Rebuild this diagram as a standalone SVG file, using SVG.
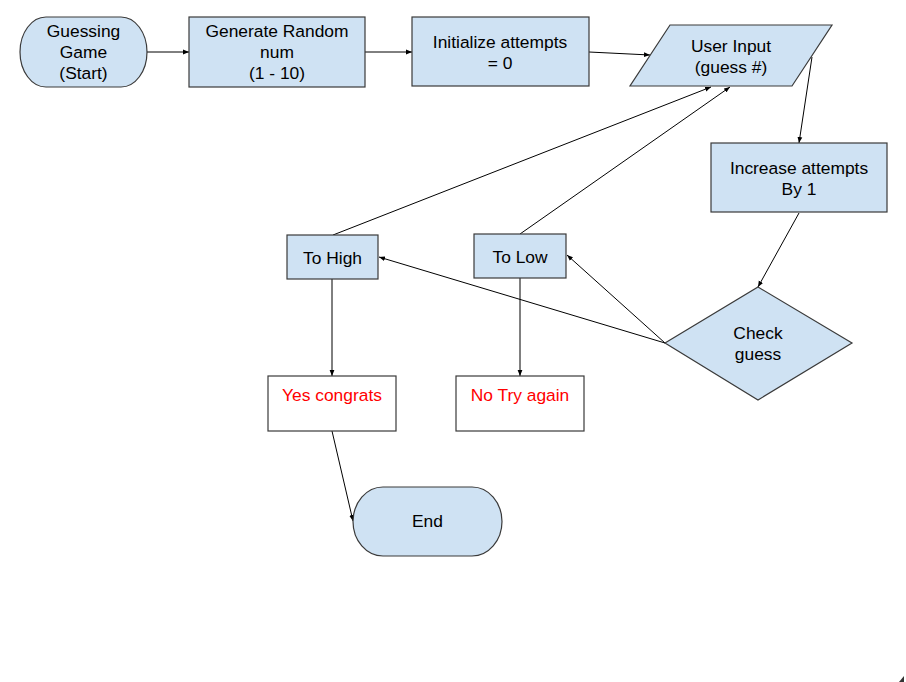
<svg xmlns="http://www.w3.org/2000/svg" width="906" height="682" viewBox="0 0 906 682">
<defs>
<marker id="ah" viewBox="0 0 10 10" refX="10" refY="5" markerWidth="6" markerHeight="6" markerUnits="userSpaceOnUse" orient="auto">
<path d="M0,1 L10,5 L0,9 Z" fill="#000"/>
</marker>
<style>
.n{fill:#cfe2f3;stroke:#3a3a3a;stroke-width:1.2}
.w{fill:#fff;stroke:#3a3a3a;stroke-width:1.2}
.t{font-family:"Liberation Sans",Arial,sans-serif;font-size:17.4px;fill:#000;text-anchor:middle}
.r{fill:#ff0000}
.c{fill:none;stroke:#000;stroke-width:1;marker-end:url(#ah)}
</style>
</defs>
<rect width="906" height="682" fill="#fff"/>
<g id="connectors">
<path class="c" d="M147,52 L189,52"/>
<path class="c" d="M365,52 L412,52"/>
<path class="c" d="M589,52 L650,55"/>
<path class="c" d="M812,57 L799,143"/>
<path class="c" d="M799,213 L758,287"/>
<path class="c" d="M665,343 L379,257"/>
<path class="c" d="M665,343 L567,255"/>
<path class="c" d="M333,235 L711,87"/>
<path class="c" d="M520,234 L730,87"/>
<path class="c" d="M332,279 L332,376"/>
<path class="c" d="M520,278 L520,376"/>
<path class="c" d="M332,431 L353,521"/>
</g>
<g id="start">
<rect class="n" x="20" y="17" width="127" height="70" rx="26" ry="35"/>
<text class="t" x="83.5" y="37">Guessing</text>
<text class="t" x="83.5" y="58">Game</text>
<text class="t" x="83.5" y="79">(Start)</text>
</g>
<g id="generate">
<rect class="n" x="189" y="17" width="176" height="70"/>
<text class="t" x="277" y="37">Generate Random</text>
<text class="t" x="277" y="58">num</text>
<text class="t" x="277" y="79">(1 - 10)</text>
</g>
<g id="init">
<rect class="n" x="412" y="17" width="177" height="69"/>
<text class="t" x="500" y="48">Initialize attempts</text>
<text class="t" x="500" y="69">= 0</text>
</g>
<g id="input">
<polygon class="n" points="670,25 832,25 792,86 630,86"/>
<text class="t" x="731" y="52">User Input</text>
<text class="t" x="731" y="73">(guess #)</text>
</g>
<g id="increase">
<rect class="n" x="711" y="143" width="176" height="69"/>
<text class="t" x="799" y="174">Increase attempts</text>
<text class="t" x="799" y="195">By 1</text>
</g>
<g id="check">
<polygon class="n" points="758,287 852,343 758,400 665,343"/>
<text class="t" x="758" y="339">Check</text>
<text class="t" x="758" y="360">guess</text>
</g>
<g id="tohigh">
<rect class="n" x="287" y="235" width="91" height="44"/>
<text class="t" x="332.5" y="264">To High</text>
</g>
<g id="tolow">
<rect class="n" x="474" y="234" width="92" height="44"/>
<text class="t" x="520" y="263">To Low</text>
</g>
<g id="yes">
<rect class="w" x="268" y="376" width="128" height="55"/>
<text class="t r" x="332" y="401">Yes congrats</text>
</g>
<g id="no">
<rect class="w" x="456" y="376" width="128" height="55"/>
<text class="t r" x="520" y="401">No Try again</text>
</g>
<g id="end">
<rect class="n" x="353" y="487" width="149" height="69" rx="30" ry="34.5"/>
<text class="t" x="427.5" y="527">End</text>
</g>
<path d="M904,676 L904,682 L899,682 Z" fill="#333"/>
</svg>
